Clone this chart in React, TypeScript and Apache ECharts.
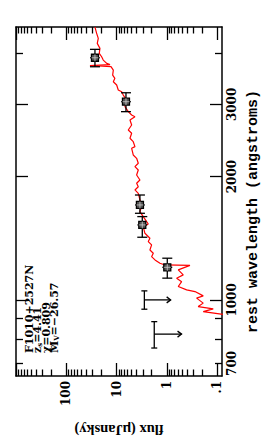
import React, { useEffect, useRef } from 'react';
import * as echarts from 'echarts';

// ---- spectrum (rest wavelength in angstroms, flux in microJansky) ----
const SPEC_WAVELENGTH = [
  4630, 4473, 4347, 4227, 4111, 3997, 3921, 3849, 3778, 3753, 3733, 3711, 3639, 3538, 3473, 3407,
  3345, 3252, 3221, 3162, 3075, 2962, 2880, 2827, 2800, 2748, 2672, 2598, 2551, 2480, 2433, 2366,
  2344, 2258, 2216, 2155, 2114, 2075, 2018, 1962, 1926, 1889, 1855, 1820, 1754, 1689, 1642, 1597,
  1552, 1532, 1509, 1454, 1414, 1388, 1362, 1324, 1300, 1275, 1252, 1229, 1217, 1214, 1184, 1151,
  1129, 1108, 1078, 1058, 1048, 1023, 1010, 982, 963, 951, 936, 922,
];
const SPEC_FLUX = [
  26.9, 24.9, 23.1, 24.2, 21.4, 22.1, 19.8, 18.4, 15.7, 13.5, 33.8, 12.9, 11.6, 11.96, 10.8, 11.6,
  9.95, 9.25, 7.92, 7.36, 6.3, 6.81, 5.85, 5.01, 4.31, 5.41, 5.01, 5.85, 5.01, 5.41, 4.66, 4.31,
  5.01, 4.66, 3.99, 3.7, 4.31, 3.7, 3.99, 3.43, 3.99, 3.7, 4.31, 3.7, 3.43, 3.17, 3.43, 2.95,
  2.52, 2.34, 2.95, 2.73, 2.17, 2.34, 2.01, 2.17, 1.86, 2.01, 1.72, 1.37, 1.09, 0.347, 0.593, 0.472,
  0.639, 0.508, 0.593, 0.404, 0.276, 0.189, 0.256, 0.189, 0.238, 0.1195, 0.189, 0.0767,
];

// ---- photometric detections ----
const PHOT_WAVELENGTH = [3899, 3046, 1705, 1524, 1201];
const PHOT_WL_LO = [3707, 2880, 1627, 1422, 1130];
const PHOT_WL_HI = [4088, 3203, 1803, 1597, 1264];
const PHOT_FLUX = [26.9, 6.5, 3.43, 3.08, 0.98];
const PHOT_FLUX_LO = [21.5, 5.2, 2.74, 2.46, 0.78];
const PHOT_FLUX_HI = [33.6, 8.1, 4.29, 3.85, 1.23];

// ---- upper limits ----
const LIMIT_WAVELENGTH = [1000, 825];
const LIMIT_WL_LO = [949, 763];
const LIMIT_WL_HI = [1052, 885];
const LIMIT_FLUX = [2.8, 1.78];
const LIMIT_ARROW_TO = [0.84, 0.51];

// ---- axes ----
const FLUX_MIN = 0.08;
const FLUX_MAX = 1000;
const WL_MIN = 652;
const WL_MAX = 4635;
const FLUX_TICK_VALUES = [0.1, 1, 10, 100];
const FLUX_TICK_LABELS = ['.1', '1', '10', '100'];
const FLUX_MAJOR = [0.1, 1, 10, 100, 1000];
const FLUX_MINOR = [
  0.2, 0.3, 0.4, 0.5, 0.6, 0.7, 0.8, 0.9, 2, 3, 4, 5, 6, 7, 8, 9,
  20, 30, 40, 50, 60, 70, 80, 90, 200, 300, 400, 500, 600, 700, 800, 900,
];
const WL_TICK_VALUES = [700, 1000, 2000, 3000];
const WL_TICK_LABELS = ['700', '1000', '2000', '3000'];
const WL_MAJOR = [1000, 2000, 3000];
const WL_MINOR = [700, 800, 900, 4000];

const INFO_LINES = [
  '{b|F1010+2527N}',
  '{b|z}{s|s}{b|=4.41}',
  '{b|χ}{b|=0.809}',
  '{b|M}{s|V}{b|=−26.57}',
];

const labelFor = (values: number[], labels: string[]) => (v: number) => {
  for (let i = 0; i < values.length; i++) {
    if (Math.abs(v - values[i]) / values[i] < 1e-6) return labels[i];
  }
  return '';
};

export default function App() {
  const ref = useRef<HTMLDivElement>(null);
  useEffect(() => {
    if (!ref.current) return;
    const chart = echarts.init(ref.current, undefined, { renderer: 'svg' });
    const black = '#000';
    const tickStyle = { color: black, width: 1.3 };
    const labelFont = { color: black, fontFamily: 'DejaVu Serif', fontWeight: 'bold' as const, fontSize: 12 };

    const xBase = { type: 'log' as const, min: FLUX_MIN, max: FLUX_MAX, inverse: true, splitLine: { show: false } };
    const yBase = { type: 'log' as const, min: WL_MIN, max: WL_MAX, splitLine: { show: false } };
    const mkTick = (vals: number[], len: number) => ({ show: true, inside: true, length: len, customValues: vals, lineStyle: tickStyle });

    const specData = SPEC_WAVELENGTH.map((w, i) => [SPEC_FLUX[i], w]);
    const photData = PHOT_WAVELENGTH.map((w, i) => [PHOT_FLUX[i], w, PHOT_WL_LO[i], PHOT_WL_HI[i], PHOT_FLUX_LO[i], PHOT_FLUX_HI[i]]);
    const limData = LIMIT_WAVELENGTH.map((w, i) => [LIMIT_FLUX[i], w, LIMIT_WL_LO[i], LIMIT_WL_HI[i], LIMIT_ARROW_TO[i]]);

    const st = { stroke: black, lineWidth: 1.3 };

    chart.setOption({
      animation: false,
      backgroundColor: '#fff',
      grid: { left: 16, right: 55, top: 27, bottom: 67 },
      xAxis: [
        {
          ...xBase, position: 'bottom',
          axisLine: { show: true, lineStyle: { color: black, width: 1.5 } },
          axisTick: mkTick(FLUX_MAJOR, 13),
          axisLabel: { ...labelFont, rotate: 90, margin: 5, customValues: FLUX_TICK_VALUES, formatter: labelFor(FLUX_TICK_VALUES, FLUX_TICK_LABELS) },
          name: 'flux (μJansky)', nameLocation: 'middle', nameGap: 46, nameRotate: 180,
          nameTextStyle: { color: black, fontFamily: 'Liberation Serif', fontWeight: 'bold', fontSize: 14.5 },
        },
        { ...xBase, position: 'bottom', axisLine: { show: false }, axisTick: mkTick(FLUX_MINOR, 6.5), axisLabel: { show: false } },
        { ...xBase, position: 'top', axisLine: { show: true, lineStyle: { color: black, width: 1.5 } }, axisTick: mkTick(FLUX_MAJOR, 13), axisLabel: { show: false } },
        { ...xBase, position: 'top', axisLine: { show: false }, axisTick: mkTick(FLUX_MINOR, 6.5), axisLabel: { show: false } },
      ],
      yAxis: [
        {
          ...yBase, position: 'right',
          axisLine: { show: true, lineStyle: { color: black, width: 1.5 } },
          axisTick: mkTick(WL_MAJOR, 12),
          axisLabel: { ...labelFont, rotate: 90, margin: 4, customValues: WL_TICK_VALUES, formatter: labelFor(WL_TICK_VALUES, WL_TICK_LABELS) },
          name: 'rest wavelength (angstroms)', nameLocation: 'middle', nameGap: 19, nameRotate: 90,
          nameTextStyle: { color: black, fontFamily: 'Liberation Mono', fontWeight: 'bold', fontSize: 15, padding: [0, 20, 0, 0] },
        },
        { ...yBase, position: 'right', axisLine: { show: false }, axisTick: mkTick(WL_MINOR, 7), axisLabel: { show: false } },
        { ...yBase, position: 'left', axisLine: { show: true, lineStyle: { color: black, width: 1.5 } }, axisTick: mkTick(WL_MAJOR, 12), axisLabel: { show: false } },
        { ...yBase, position: 'left', axisLine: { show: false }, axisTick: mkTick(WL_MINOR, 7), axisLabel: { show: false } },
      ],
      graphic: INFO_LINES.map((t, i) => ({
        type: 'text',
        x: 29 + i * 8.5,
        y: 353,
        rotation: Math.PI / 2,
        style: {
          text: t,
          align: 'left', verticalAlign: 'middle', textAlign: 'left', textVerticalAlign: 'middle',
          fill: black,
          rich: {
            b: { fontFamily: 'DejaVu Serif', fontWeight: 'bold', fontSize: 11, lineHeight: 11, verticalAlign: 'top', fill: black },
            s: { fontFamily: 'DejaVu Serif', fontWeight: 'bold', fontSize: 7, lineHeight: 7, padding: [5, 0, 0, 0], verticalAlign: 'bottom', fill: black },
          },
        },
      })),
      series: [
        {
          type: 'line', xAxisIndex: 0, yAxisIndex: 0, data: specData, showSymbol: false, symbol: 'none',
          lineStyle: { color: '#ff0000', width: 1.2 }, z: 2,
        },
        {
          type: 'custom', xAxisIndex: 0, yAxisIndex: 0, data: photData, encode: { x: 0, y: 1 }, z: 3,
          renderItem: (_p: any, api: any) => {
            const c = api.coord([api.value(0), api.value(1)]);
            const lo = api.coord([api.value(0), api.value(2)]);
            const hi = api.coord([api.value(0), api.value(3)]);
            const fl = api.coord([api.value(4), api.value(1)]);
            const fh = api.coord([api.value(5), api.value(1)]);
            const cap = 5, s = 3.5;
            return {
              type: 'group',
              children: [
                { type: 'line', shape: { x1: c[0], y1: lo[1], x2: c[0], y2: hi[1] }, style: st },
                { type: 'line', shape: { x1: c[0] - cap, y1: lo[1], x2: c[0] + cap, y2: lo[1] }, style: st },
                { type: 'line', shape: { x1: c[0] - cap, y1: hi[1], x2: c[0] + cap, y2: hi[1] }, style: st },
                { type: 'line', shape: { x1: fl[0], y1: c[1], x2: fh[0], y2: c[1] }, style: st },
                { type: 'rect', shape: { x: c[0] - s, y: c[1] - s, width: 2 * s, height: 2 * s }, style: { fill: '#555', stroke: black, lineWidth: 1.3 } },
                { type: 'line', shape: { x1: c[0] - s, y1: c[1], x2: c[0] + s, y2: c[1] }, style: { stroke: '#ccc', lineWidth: 0.8 } },
                { type: 'line', shape: { x1: c[0], y1: c[1] - s, x2: c[0], y2: c[1] + s }, style: { stroke: '#ccc', lineWidth: 0.8 } },
              ],
            };
          },
        },
        {
          type: 'custom', xAxisIndex: 0, yAxisIndex: 0, data: limData, encode: { x: 0, y: 1 }, z: 3,
          renderItem: (_p: any, api: any) => {
            const c = api.coord([api.value(0), api.value(1)]);
            const lo = api.coord([api.value(0), api.value(2)]);
            const hi = api.coord([api.value(0), api.value(3)]);
            const e = api.coord([api.value(4), api.value(1)]);
            const cap = 3;
            return {
              type: 'group',
              children: [
                { type: 'line', shape: { x1: c[0], y1: lo[1], x2: c[0], y2: hi[1] }, style: st },
                { type: 'line', shape: { x1: c[0] - cap, y1: lo[1], x2: c[0] + cap, y2: lo[1] }, style: st },
                { type: 'line', shape: { x1: c[0] - cap, y1: hi[1], x2: c[0] + cap, y2: hi[1] }, style: st },
                { type: 'line', shape: { x1: c[0], y1: c[1], x2: e[0], y2: e[1] }, style: st },
                { type: 'polyline', shape: { points: [[e[0] - 4, e[1] - 3], [e[0], e[1]], [e[0] - 4, e[1] + 3]] }, style: { ...st, fill: 'none' } },
              ],
            };
          },
        },
      ],
    });
    return () => chart.dispose();
  }, []);
  return <div ref={ref} style={{ position: 'fixed', left: 0, top: 0, width: 277, height: 443, background: '#fff' }} />;
}
